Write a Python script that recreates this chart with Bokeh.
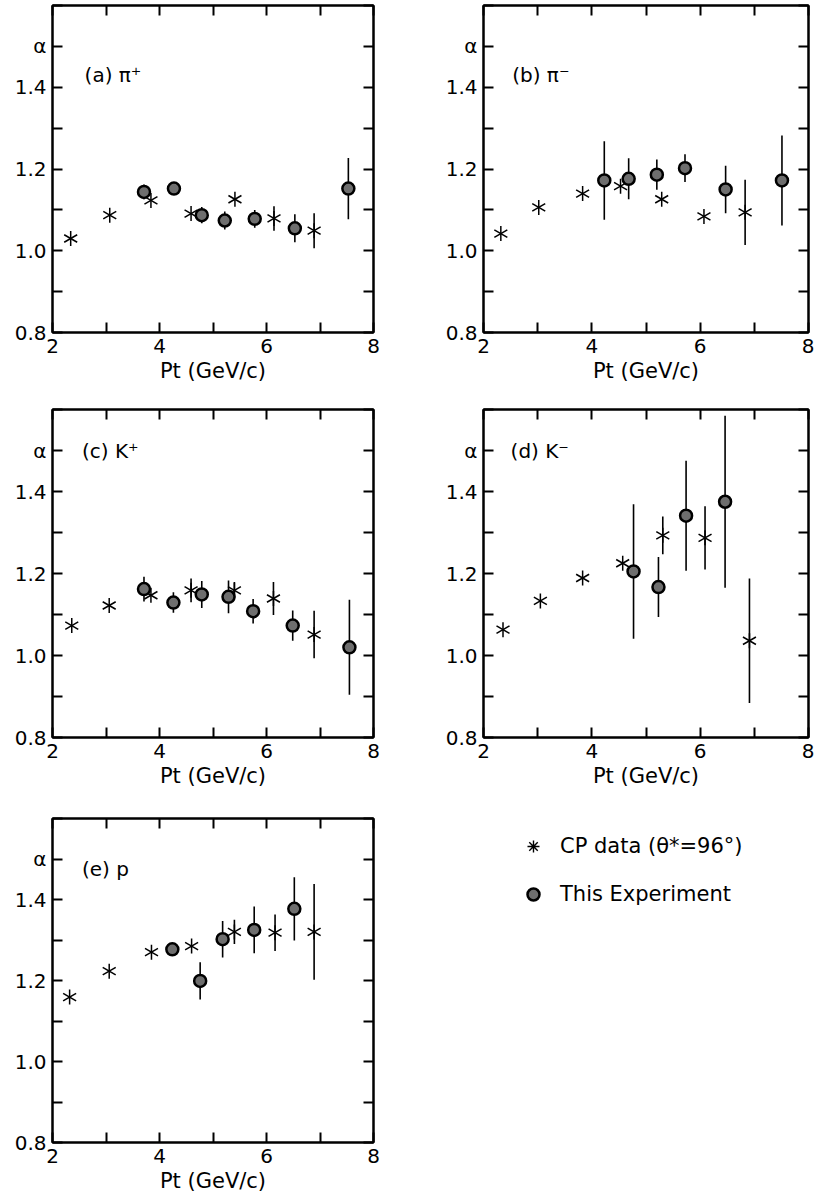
import math
import numpy as np
from bokeh.plotting import figure
from bokeh.models import (LinearAxis, FixedTicker, Label, Legend, LegendItem,
                          ColumnDataSource, Range1d)
from bokeh.layouts import column, row
from bokeh.embed import file_html
from bokeh.resources import INLINE

FONT = "DejaVu Sans"

x_ticks = [2, 3, 4, 5, 6, 7, 8]
x_labels = {2: "2", 3: "", 4: "4", 5: "", 6: "6", 7: "", 8: "8"}
y_ticks = [0.8, 0.9, 1.0, 1.1, 1.2, 1.3, 1.4, 1.5, 1.6]
y_labels = {0.8: "0.8", 0.9: "", 1.0: "1.0", 1.1: "", 1.2: "1.2", 1.3: "",
            1.4: "1.4", 1.5: "α", 1.6: ""}
x_title = "Pt (GeV/c)"

# (a) pi+
a_cp_x = [2.34, 3.07, 3.84, 4.59, 5.41, 6.14, 6.89]
a_cp_y = [1.030, 1.087, 1.123, 1.091, 1.126, 1.079, 1.049]
a_cp_e = [0, 0, 0, 0, 0, 0.030, 0.043]
a_ex_x = [3.71, 4.27, 4.79, 5.22, 5.78, 6.53, 7.53]
a_ex_y = [1.144, 1.152, 1.087, 1.074, 1.078, 1.055, 1.152]
a_ex_e = [0.018, 0, 0.020, 0.022, 0.022, 0.034, 0.075]

# (b) pi-
b_cp_x = [2.32, 3.02, 3.83, 4.53, 5.29, 6.07, 6.83]
b_cp_y = [1.042, 1.106, 1.140, 1.158, 1.126, 1.084, 1.094]
b_cp_e = [0, 0, 0, 0, 0, 0, 0.080]
b_ex_x = [4.23, 4.68, 5.20, 5.72, 6.47, 7.51]
b_ex_y = [1.172, 1.176, 1.186, 1.202, 1.150, 1.172]
b_ex_e = [0.096, 0.050, 0.037, 0.034, 0.058, 0.110]

# (c) K+
c_cp_x = [2.36, 3.06, 3.84, 4.59, 5.40, 6.13, 6.89]
c_cp_y = [1.073, 1.122, 1.147, 1.159, 1.159, 1.139, 1.051]
c_cp_e = [0, 0, 0, 0.029, 0.020, 0.040, 0.058]
c_ex_x = [3.71, 4.26, 4.79, 5.29, 5.75, 6.49, 7.55]
c_ex_y = [1.162, 1.129, 1.149, 1.143, 1.108, 1.073, 1.020]
c_ex_e = [0.030, 0.025, 0.033, 0.040, 0.030, 0.037, 0.116]

# (d) K-
d_cp_x = [2.36, 3.05, 3.83, 4.57, 5.31, 6.09, 6.91]
d_cp_y = [1.063, 1.133, 1.189, 1.225, 1.293, 1.287, 1.036]
d_cp_e = [0, 0, 0, 0, 0.046, 0.077, 0.152]
d_ex_x = [4.77, 5.23, 5.74, 6.46]
d_ex_y = [1.205, 1.167, 1.341, 1.375]
d_ex_e = [0.164, 0.073, 0.134, 0.210]

# (e) p
e_cp_x = [2.32, 3.06, 3.85, 4.60, 5.40, 6.16, 6.89]
e_cp_y = [1.159, 1.223, 1.270, 1.285, 1.320, 1.318, 1.320]
e_cp_e = [0, 0, 0, 0, 0.030, 0.045, 0.118]
e_ex_x = [4.24, 4.76, 5.18, 5.77, 6.52]
e_ex_y = [1.277, 1.199, 1.302, 1.325, 1.377]
e_ex_e = [0, 0.046, 0.045, 0.058, 0.078]

legend_cp = "CP data (θ*=96°)"
legend_ex = "This Experiment"

STAR_ANGLES = [math.pi / 2, math.pi / 6, -math.pi / 6]


def src(x, y, e):
    y = np.array(y, dtype=float)
    e = np.array(e, dtype=float)
    return ColumnDataSource(dict(x=x, y=y, lo=y - e, hi=y + e))


def star(p, source, size):
    return [p.scatter(x="x", y="y", source=source, marker="dash", size=size,
                      angle=a, line_color="black", line_width=1.5)
            for a in STAR_ANGLES]


def dot(p, source, size):
    return p.scatter(x="x", y="y", source=source, marker="circle", size=size,
                     fill_color="#6e6e6e", line_color="black", line_width=2.5)


def style_axis(ax, show_labels, is_x):
    ax.ticker = FixedTicker(ticks=x_ticks if is_x else y_ticks)
    ax.major_tick_in = 10
    ax.major_tick_out = 0
    ax.minor_tick_line_color = None
    ax.major_tick_line_width = 2
    ax.axis_line_width = 2
    ax.major_label_text_font = FONT
    ax.major_label_text_color = "black"
    if show_labels:
        ax.major_label_overrides = x_labels if is_x else y_labels
        ax.major_label_text_font_size = "20px"
        ax.major_label_standoff = 6
    else:
        ax.major_label_text_font_size = "0px"
        ax.major_label_standoff = 0
        ax.major_label_overrides = {t: "" for t in (x_ticks if is_x else y_ticks)}


def panel(cp, ex, label, label_xy, width, height, left, right, top, bottom):
    p = figure(width=width, height=height, x_range=Range1d(2, 8),
               y_range=Range1d(0.8, 1.6), output_backend="svg",
               toolbar_location=None, min_border_left=left,
               min_border_right=right, min_border_top=top,
               min_border_bottom=bottom, x_axis_label=x_title)
    p.grid.visible = False
    p.outline_line_color = "black"
    p.outline_line_width = 2
    style_axis(p.xaxis[0], True, True)
    style_axis(p.yaxis[0], True, False)
    p.xaxis[0].axis_label_text_font = FONT
    p.xaxis[0].axis_label_text_font_style = "normal"
    p.xaxis[0].axis_label_text_font_size = "21px"
    p.xaxis[0].axis_label_text_color = "black"
    p.xaxis[0].axis_label_standoff = 3
    top_ax = LinearAxis()
    style_axis(top_ax, False, True)
    p.add_layout(top_ax, "above")
    right_ax = LinearAxis()
    style_axis(right_ax, False, False)
    p.add_layout(right_ax, "right")

    s_cp = src(*cp)
    s_ex = src(*ex)
    p.segment(x0="x", y0="lo", x1="x", y1="hi", source=s_cp,
              line_color="black", line_width=1.6)
    p.segment(x0="x", y0="lo", x1="x", y1="hi", source=s_ex,
              line_color="black", line_width=1.6)
    star(p, s_cp, 15)
    dot(p, s_ex, 12)
    p.add_layout(Label(x=label_xy[0], y=label_xy[1], text=label,
                       text_font=FONT, text_font_size="20px",
                       text_color="black", text_baseline="middle"))
    return p


pa = panel((a_cp_x, a_cp_y, a_cp_e), (a_ex_x, a_ex_y, a_ex_e),
           "(a)  π⁺", (2.6, 1.43), 430, 404, 52, 57, 5, 72)
pb = panel((b_cp_x, b_cp_y, b_cp_e), (b_ex_x, b_ex_y, b_ex_e),
           "(b)  π⁻", (2.53, 1.43), 384, 404, 53, 6, 5, 72)
pc = panel((c_cp_x, c_cp_y, c_cp_e), (c_ex_x, c_ex_y, c_ex_e),
           "(c)  K⁺", (2.55, 1.5), 430, 405, 52, 57, 5, 72)
pd = panel((d_cp_x, d_cp_y, d_cp_e), (d_ex_x, d_ex_y, d_ex_e),
           "(d)  K⁻", (2.5, 1.5), 384, 405, 53, 6, 5, 72)
pe = panel((e_cp_x, e_cp_y, e_cp_e), (e_ex_x, e_ex_y, e_ex_e),
           "(e)  p", (2.55, 1.476), 430, 386, 52, 57, 9, 53)

# legend panel (empty cell of the grid); its ranges keep the series out of view
pl = figure(width=384, height=386, output_backend="svg", toolbar_location=None,
            min_border=0, x_range=Range1d(100, 101), y_range=Range1d(100, 101))
pl.axis.visible = False
pl.grid.visible = False
pl.outline_line_color = None
r_cp = pl.scatter(x="x", y="y", source=src(e_cp_x, e_cp_y, e_cp_e),
                  marker="asterisk", size=15, line_color="black",
                  line_width=1.4)
r_ex = dot(pl, src(e_ex_x, e_ex_y, e_ex_e), 12)
legend = Legend(items=[LegendItem(label=legend_cp, renderers=[r_cp]),
                       LegendItem(label=legend_ex, renderers=[r_ex])],
                location=(88, 233), border_line_color=None,
                background_fill_alpha=0, padding=0, margin=0,
                glyph_width=30, glyph_height=30, label_standoff=12,
                spacing=18, label_text_font=FONT, label_text_color="black",
                label_text_font_size="21px")
pl.add_layout(legend)

layout = column(row(pa, pb), row(pc, pd), row(pe, pl))
open("out.html", "w").write(file_html(layout, INLINE))
